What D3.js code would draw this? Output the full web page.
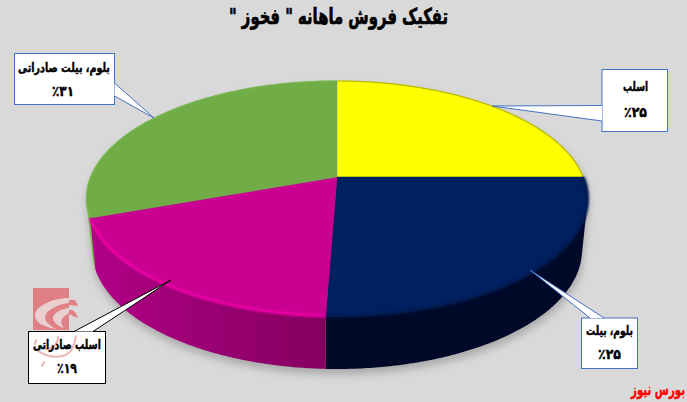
<!DOCTYPE html>
<html><head><meta charset="utf-8">
<script src="https://cdn.jsdelivr.net/npm/d3@7/dist/d3.min.js"></script>
<style>html,body{margin:0;padding:0;background:#d9d9d9;overflow:hidden}svg{display:block}text{font-family:"DejaVu Sans",sans-serif;font-weight:bold}</style>
</head><body>
<script>
const titleText = 'تفکیک فروش ماهانه " فخوز "';
const sourceText = 'بورس نیوز';
const categories = ['اسلب','بلوم، بیلت','اسلب صادراتی','بلوم، بیلت صادراتی'];
const shares = [25.0,25.6,18.9,30.5];
const shareLabels = ['٪۲۵','٪۲۵','٪۱۹','٪۳۱'];
const topColors = ['#ffff00','#002060','#c90090','#70ad47'];
const rimColors = ['#b8b800','#001a50','#f400ac','#78b84e'];
const wallDark = ['#8a8a00','#000a28','#85005f','#5a9a35'];
const wallLight = ['#b0b000','#001038','#b00086','#7fc04f'];

const W=687,H=402;
const svg=d3.select('body').append('svg').attr('width',W).attr('height',H);
const defs=svg.append('defs');
svg.append('rect').attr('width',W).attr('height',H).attr('fill','#d9d9d9');

const p=-0.183, k=1-p*p;
function lens(cx,cyy,rx,ry){
  const A=ry*k, B=rx*Math.sqrt(k), y0=cyy+ry-A/(1+p);
  const fn=t=>{const u=Math.sin(t),v=-Math.cos(t),d=1+p*v;return [cx+B*u/d,y0+A*v/d];};
  fn.apex=[cx,y0];
  return fn;
}
const topFace=lens(337,198.5,250.5,117.5);
const botFace=lens(337,250,245,119);

const arcs=d3.pie().sort(null).value(d=>d)(shares);
const line=d3.line();
const samples=(a,b)=>{const n=Math.max(2,Math.ceil((b-a)/0.01));return d3.range(n+1).map(i=>a+(b-a)*i/n);};

const f=defs.append('filter').attr('id','sh').attr('x','-10%').attr('y','-10%').attr('width','120%').attr('height','130%');
f.append('feGaussianBlur').attr('stdDeviation',4.5);
const f2=defs.append('filter').attr('id','rb').attr('x','-5%').attr('y','-5%').attr('width','110%').attr('height','110%');
f2.append('feGaussianBlur').attr('stdDeviation',1.1);
const f3=defs.append('filter').attr('id','wmb').attr('x','-10%').attr('y','-10%').attr('width','120%').attr('height','120%');
f3.append('feGaussianBlur').attr('stdDeviation',.5);

const outline=d3.polygonHull(samples(0,2*Math.PI).flatMap(t=>[topFace(t),botFace(t)]));
svg.append('path').attr('d',line(outline.map(q=>[q[0]+1,q[1]+5]))+'Z')
  .attr('fill','#8c8c8c').attr('opacity',.65).attr('filter','url(#sh)');

[3,0,1,2].forEach(i=>{
  const a=arcs[i];
  const g=defs.append('linearGradient').attr('id','w'+i).attr('gradientUnits','userSpaceOnUse')
    .attr('x1',90).attr('x2',325).attr('y1',0).attr('y2',0);
  g.append('stop').attr('offset',0).attr('stop-color',wallLight[i]);
  g.append('stop').attr('offset',1).attr('stop-color',wallDark[i]);
  const ts=samples(a.startAngle,a.endAngle);
  const hull=d3.polygonHull(ts.map(topFace).concat(ts.map(botFace)));
  svg.append('path').attr('d',line(hull)+'Z').attr('fill',`url(#w${i})`);
});

const faces=svg.append('g');
arcs.forEach((a,i)=>{
  const ts=samples(a.startAngle,a.endAngle);
  const d=line([topFace.apex].concat(ts.map(topFace)))+'Z';
  faces.append('path').attr('d',d).attr('fill',topColors[i]).attr('stroke',topColors[i]).attr('stroke-width',.5);
});
arcs.forEach((a,i)=>{
  const ts=samples(a.startAngle,a.endAngle);
  svg.append('path').attr('d',line(ts.map(topFace))).attr('fill','none').attr('stroke',rimColors[i])
    .attr('stroke-width',i==2?2.6:i==1?3:1.2).attr('filter',i==1||i==2?'url(#rb)':null);
});

const wm=svg.append('g').attr('filter','url(#wmb)');
wm.append('rect').attr('x',33).attr('y',288).attr('width',36).attr('height',42).attr('fill','#e08085');
wm.append('path').attr('fill','#e8d0d0').attr('d','M69,298 C52,298 34,307 35,316 C36,323 44,327 56,329 C47,324 43,319 46,314 C50,308 60,304 69,303 Z');
wm.append('path').attr('fill','#e8d0d0').attr('d','M69,308 C60,309 52,314 53,319 C54,323 58,326 64,328 C60,323 60,318 69,313 Z');
wm.append('path').attr('fill','#e08085').attr('d','M69,300 L75,300 L78,306 L69,305 Z M69,310 C73,309 76,312 78,318 L73,316 L69,314 Z');

const callouts=[
 {box:[602,69.5,65.5,62],wedge:[[602,105.5],[492,106],[602,121]],stroke:'#4472c4',t:[635.5,88,25],s:[635.5,113,23]},
 {box:[581.5,318,56,50.5],wedge:[[590,318],[530,270],[604,318]],stroke:'#4472c4',t:[609.5,332,47],s:[609.5,355,23]},
 {box:[28.5,331.5,77,52],wedge:[[74,331.5],[171,280],[93,331.5]],stroke:'#000',t:[67,346,68],s:[67,369,20]},
 {box:[14.5,53.5,100,51],wedge:[[114.5,83],[154,118],[114.5,96]],stroke:'#4472c4',t:[64,68,92],s:[63,92,22]}
];
function fit(sel,cx,cy,width,thick){
  const w=sel.node().getComputedTextLength();
  sel.attr('x',0).attr('y',0).attr('text-anchor','middle').attr('dominant-baseline','middle')
    .attr('stroke',sel.attr('fill')).attr('stroke-width',thick).attr('direction','rtl')
    .attr('transform',`translate(${cx},${cy}) scale(${width/w},1)`);
}
categories.forEach((c,i)=>{
  const o=callouts[i],[x,y,w,h]=o.box;
  svg.append('rect').attr('x',x).attr('y',y).attr('width',w).attr('height',h).attr('fill','#fff').attr('stroke',o.stroke).attr('stroke-width',1);
  svg.append('path').attr('d',line(o.wedge)+'Z').attr('fill','#fff');
  svg.append('path').attr('d',line(o.wedge)).attr('fill','none').attr('stroke',o.stroke).attr('stroke-width',1);
});
svg.append('path').attr('fill','none').attr('stroke','#eeb4b6').attr('stroke-width',2).attr('stroke-linecap','round').attr('filter','url(#wmb)')
  .attr('d','M76,336 C74,346 72,354 62,356 C52,358 42,355 36,349 M58,337 C58,344 52,350 46,349 M44,362 L42,366 M36,340 L35,344');
categories.forEach((c,i)=>{
  const o=callouts[i];
  fit(svg.append('text').attr('font-size',13).attr('fill','#000').text(c),o.t[0],o.t[1],o.t[2],.45);
  fit(svg.append('text').attr('font-size',14).attr('fill','#000').text(shareLabels[i]),o.s[0],o.s[1],o.s[2],.45);
});

fit(svg.append('text').attr('font-size',22).attr('fill','#000').text(titleText),338.5,18,219,.7);
fit(svg.append('text').attr('font-size',16).attr('fill','#ff0000').text(sourceText),658,390,54,.4);
</script>
</body></html>
